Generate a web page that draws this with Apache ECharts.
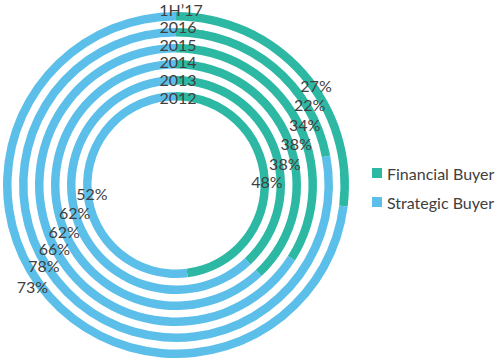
<!DOCTYPE html>
<html>
<head>
<meta charset="utf-8">
<script src="https://cdn.jsdelivr.net/npm/echarts@6/dist/echarts.min.js"></script>
<style>
  html, body { margin: 0; padding: 0; background: #ffffff; }
  #chart { width: 500px; height: 363px; }
</style>
</head>
<body>
<div id="chart"></div>
<script>
// ---- Data ----
const years = ['2012', '2013', '2014', '2015', '2016', "1H\u201917"];
const financial = [48, 38, 38, 34, 22, 27];
const strategic = [52, 62, 62, 66, 78, 73];
const seriesNames = ['Financial Buyer', 'Strategic Buyer'];

// ---- Layout (label anchor angles in degrees clockwise from 12 o'clock, radius in px) ----
const finLabelPolar = [[87.5, 91], [78.6, 111], [71, 127], [65, 142], [59, 156], [54.5, 172]];
const strLabelPolar = [[263.9, 84.5], [255, 105], [247.5, 121], [242.5, 137], [238.5, 155], [234.7, 176]];

const cx = 176, cy = 185;
const innermostOuter = 93, pitch = 16, thick = 8.5;
const yearLabelBase = 97, yearLabelStep = 17.6;
const colors = ['#2db8a4', '#5bbfea'];
const textColor = '#404040';
const fontFamily = 'Lato, "Open Sans", sans-serif';

function polar(angleDeg, r) {
  const a = angleDeg * Math.PI / 180;
  return [cx + r * Math.sin(a), cy - r * Math.cos(a)];
}

const series = years.map((y, i) => {
  const rOut = innermostOuter + pitch * i;
  return {
    type: 'pie',
    name: y,
    center: [cx, cy],
    radius: [rOut - thick, rOut],
    startAngle: 90,
    clockwise: true,
    silent: true,
    animation: false,
    avoidLabelOverlap: false,
    itemStyle: { borderWidth: 0 },
    label: {
      show: true,
      position: 'inside',
      formatter: p => p.value + '%',
      color: textColor,
      fontFamily: fontFamily,
      fontSize: 16
    },
    labelLine: { show: false },
    labelLayout: function (params) {
      const pp = params.dataIndex === 0 ? finLabelPolar[i] : strLabelPolar[i];
      const pt = polar(pp[0], pp[1]);
      return { x: pt[0], y: pt[1], align: 'center', verticalAlign: 'middle' };
    },
    data: [
      { name: seriesNames[0], value: financial[i], itemStyle: { color: colors[0] } },
      { name: seriesNames[1], value: strategic[i], itemStyle: { color: colors[1] } }
    ]
  };
});

const yearTexts = years.map((y, i) => ({
  type: 'text',
  x: cx + 2 + (i === years.length - 1 ? 3 : 0),
  y: yearLabelBase - yearLabelStep * i,
  silent: true,
  style: {
    text: y,
    fill: textColor,
    font: '16px ' + fontFamily,
    align: 'center',
    verticalAlign: 'middle'
  },
  z: 100
}));

const chart = echarts.init(document.getElementById('chart'), null, { renderer: 'svg' });
chart.setOption({
  backgroundColor: '#ffffff',
  animation: false,
  color: colors,
  legend: {
    data: seriesNames,
    orient: 'vertical',
    left: 367,
    top: 159,
    icon: 'rect',
    itemWidth: 10,
    itemHeight: 10,
    itemGap: 11,
    textStyle: { color: textColor, fontFamily: fontFamily, fontSize: 16, lineHeight: 18 },
    selectedMode: false
  },
  graphic: yearTexts,
  series: series
});
</script>
</body>
</html>
